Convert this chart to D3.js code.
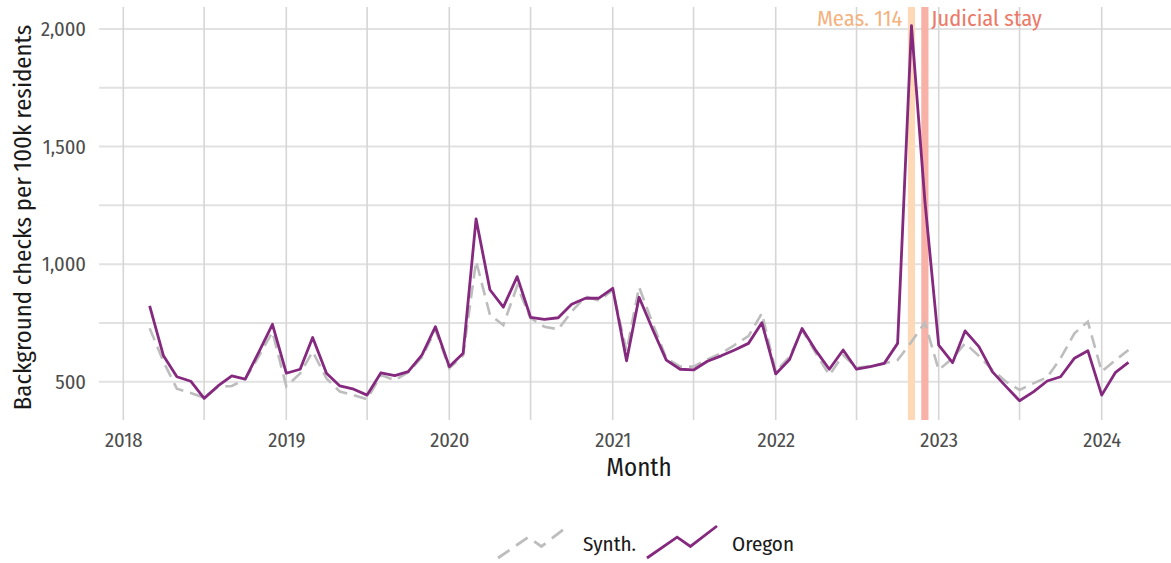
<!DOCTYPE html>
<html>
<head>
<meta charset="utf-8">
<script src="https://cdn.jsdelivr.net/npm/d3@7"></script>
<style>
  body { margin: 0; background: #fff; }
  svg text { font-family: "Fira Sans Condensed", "Roboto Condensed", "Liberation Sans Narrow", "DejaVu Sans Condensed", Roboto, sans-serif; }
</style>
</head>
<body>
<div id="chart"></div>
<script>
// monthly series, Mar 2018 .. Mar 2024
const startMonth = "2018-03-01";
const oregon = [
  823, 610, 521, 502, 429, 482, 525, 511, 628, 744,
  536, 553, 688, 536, 482, 468, 443, 538, 526, 543, 614, 734,
  564, 621, 1192, 891, 817, 947, 774, 765, 772, 829, 855, 855,
  897, 589, 859, 720, 592, 553, 550, 587, 610, 635, 663, 751,
  533, 594, 726, 632, 553, 635, 553, 564, 578, 663, 2014, 1269,
  656, 581, 716, 649, 543, 479, 419, 457, 503, 521, 600, 632,
  443, 540, 582
];
const synth = [
  727, 585, 470, 452, 432, 478, 482, 510, 610, 712,
  480, 535, 628, 514, 458, 443, 425, 528, 507, 540, 605, 720,
  557, 612, 1013, 784, 741, 907, 770, 734, 723, 798, 862, 845,
  890, 630, 903, 745, 600, 564, 564, 595, 621, 656, 694, 791,
  543, 606, 720, 621, 528, 613, 560, 566, 578, 592, 670, 751,
  550, 600, 663, 610, 550, 500, 465, 493, 519, 600, 706, 755,
  543, 592, 635
];
const events = [
  {label: "Meas. 114", date: "2022-11-01", band: "#fdd9b8", text: "#f4b27f"},
  {label: "Judicial stay", date: "2022-12-01", band: "#f7b1a6", text: "#ec7a68"}
];
const yTicks = [500, 1000, 1500, 2000];
const yMinor = [750, 1250, 1750];
const yearTicks = ["2018", "2019", "2020", "2021", "2022", "2023", "2024"];

const W = 1171, H = 563;
const margin = {top: 7, right: 0, bottom: 143, left: 99};
const width = W - margin.left - margin.right;
const height = H - margin.top - margin.bottom;

const parse = d3.timeParse("%Y-%m-%d");
const t0 = parse(startMonth);
const months = oregon.map((d, i) => d3.timeMonth.offset(t0, i));

const svg = d3.select("#chart").append("svg")
  .attr("width", W)
  .attr("height", H);

const g = svg.append("g")
  .attr("transform", "translate(" + margin.left + "," + margin.top + ")");

const x = d3.scaleTime()
  .domain([parse("2018-01-01"), parse("2024-01-01")])
  .range([24.3, 1002.7]);

const y = d3.scaleLinear()
  .domain([500, 2000])
  .range([374.7, 22]);

// grid
const yearDates = yearTicks.map(s => parse(s + "-01-01"));
const midDates = yearTicks.map(s => parse(s + "-07-01"));

g.selectAll(".hgrid")
  .data(yTicks.concat(yMinor))
  .enter().append("line")
  .attr("x1", 0).attr("x2", width)
  .attr("y1", d => y(d)).attr("y2", d => y(d))
  .attr("stroke", "#e2e2e2")
  .attr("stroke-width", 2);

g.selectAll(".vgrid")
  .data(yearDates.concat(midDates))
  .enter().append("line")
  .attr("x1", d => x(d)).attr("x2", d => x(d))
  .attr("y1", 0).attr("y2", height)
  .attr("stroke", "#d6d6d6")
  .attr("stroke-width", 1.6);

// event bands
g.selectAll(".band")
  .data(events)
  .enter().append("rect")
  .attr("x", d => x(parse(d.date)) - 3.6)
  .attr("width", 7.2)
  .attr("y", 0)
  .attr("height", height)
  .attr("fill", d => d.band);

g.selectAll(".evlabel")
  .data(events)
  .enter().append("text")
  .attr("x", (d, i) => x(parse(d.date)) + (i === 0 ? -9 : 6.5))
  .attr("y", 19)
  .attr("text-anchor", (d, i) => i === 0 ? "end" : "start")
  .attr("fill", d => d.text)
  .style("font-size", "22.5px")
  .text(d => d.label);

// lines
const line = d3.line()
  .x((d, i) => x(months[i]))
  .y(d => y(d));

g.append("path")
  .attr("d", line(synth))
  .attr("fill", "none")
  .attr("stroke", "#bdbdbd")
  .attr("stroke-width", 2.6)
  .attr("stroke-dasharray", "13,7");

g.append("path")
  .attr("d", line(oregon))
  .attr("fill", "none")
  .attr("stroke", "#85297f")
  .attr("stroke-width", 2.8)
  .attr("stroke-linejoin", "round");

// axes
const yAxis = g.append("g")
  .call(d3.axisLeft(y).tickValues(yTicks).tickFormat(d3.format(",")).tickSize(0).tickPadding(13));
yAxis.select(".domain").remove();
yAxis.selectAll("text")
  .attr("fill", "#4d4d4d")
  .style("font-size", "20.5px");

const xAxis = g.append("g")
  .attr("transform", "translate(0," + height + ")")
  .call(d3.axisBottom(x).tickValues(yearDates).tickFormat(d3.timeFormat("%Y")).tickSize(0).tickPadding(12));
xAxis.select(".domain").remove();
xAxis.selectAll("text")
  .attr("fill", "#4d4d4d")
  .style("font-size", "20.5px");

svg.append("text")
  .attr("x", margin.left + width / 2 + 4)
  .attr("y", 476)
  .attr("text-anchor", "middle")
  .attr("fill", "#1a1a1a")
  .style("font-size", "25px")
  .text("Month");

svg.append("text")
  .attr("transform", "translate(31," + (margin.top + height / 2 + 4) + ") rotate(-90)")
  .attr("text-anchor", "middle")
  .attr("fill", "#1a1a1a")
  .style("font-size", "24.7px")
  .text("Background checks per 100k residents");

// legend
const glyph = [[0, 1], [0.43, 0.35], [0.62, 0.64], [1, 0]];
const legendItems = [
  {label: "Synth.", color: "#bdbdbd", dash: "14,8", x0: 498},
  {label: "Oregon", color: "#85297f", dash: null, x0: 647}
];
const gx = d3.scaleLinear().domain([0, 1]).range([0, 70]);
const gy = d3.scaleLinear().domain([0, 1]).range([526, 558]);
const leg = svg.selectAll(".leg")
  .data(legendItems)
  .enter().append("g")
  .attr("transform", d => "translate(" + d.x0 + ",0)");
leg.append("path")
  .attr("d", d3.line().x(p => gx(p[0])).y(p => gy(p[1]))(glyph))
  .attr("fill", "none")
  .attr("stroke", d => d.color)
  .attr("stroke-width", 2.8)
  .attr("stroke-dasharray", d => d.dash);
leg.append("text")
  .attr("x", 85)
  .attr("y", 551)
  .attr("fill", "#1a1a1a")
  .style("font-size", "21px")
  .text(d => d.label);
</script>
</body>
</html>
